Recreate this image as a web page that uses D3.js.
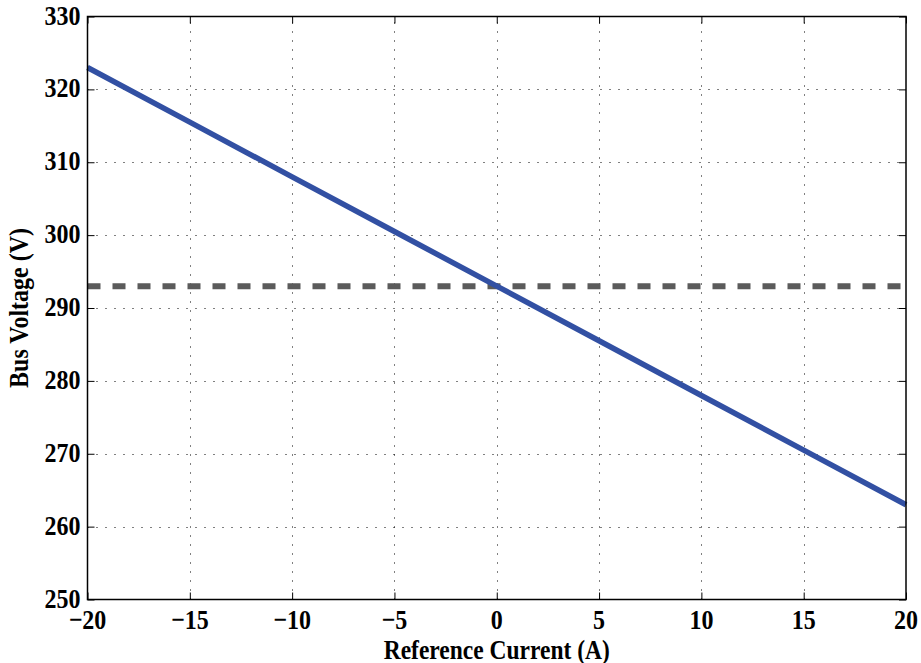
<!DOCTYPE html>
<html>
<head>
<meta charset="utf-8">
<script src="https://cdn.jsdelivr.net/npm/d3@7"></script>
<style>
  html, body { margin: 0; padding: 0; background: #fff; }
  svg text { font-family: "Liberation Serif", "Times New Roman", serif; font-weight: bold; fill: #000; }
</style>
</head>
<body>
<svg id="chart" width="921" height="663"></svg>
<script>
// Bus voltage vs. reference current (droop characteristic)
const currentA = [-20, -15, -10, -5, 0, 5, 10, 15, 20];
const busVoltageV = [323, 315.5, 308, 300.5, 293, 285.5, 278, 270.5, 263];
const nominalVoltage = 293;
const xTicks = [-20, -15, -10, -5, 0, 5, 10, 15, 20];
const yTicks = [250, 260, 270, 280, 290, 300, 310, 320, 330];

const margin = { left: 87.5, right: 15, top: 16.5, bottom: 63.5 };
const W = 921, H = 663;
const svg = d3.select("#chart");

const x = d3.scaleLinear().domain([-20, 20]).range([margin.left, W - margin.right]);
const y = d3.scaleLinear().domain([250, 330]).range([H - margin.bottom, margin.top]);

const x0 = x.range()[0], x1 = x.range()[1];
const y0 = y.range()[0], y1 = y.range()[1];

// dotted grid
const grid = svg.append("g").attr("stroke", "#000").attr("stroke-width", 1)
  .attr("stroke-dasharray", "1,8");
grid.selectAll(".gx").data(xTicks.slice(1, -1)).join("line")
  .attr("x1", d => Math.round(x(d)) + 0.5).attr("x2", d => Math.round(x(d)) + 0.5)
  .attr("y1", y0).attr("y2", y1);
grid.selectAll(".gy").data(yTicks.slice(1, -1)).join("line")
  .attr("y1", d => Math.round(y(d)) + 0.5).attr("y2", d => Math.round(y(d)) + 0.5)
  .attr("x1", x0).attr("x2", x1);

// nominal voltage reference (dashed)
svg.append("line")
  .attr("x1", x0).attr("x2", x1)
  .attr("y1", y(nominalVoltage)).attr("y2", y(nominalVoltage))
  .attr("stroke", "#5b5b5b").attr("stroke-width", 6)
  .attr("stroke-dasharray", "13,12");

// droop line
const line = d3.line().x((d, i) => x(currentA[i])).y(d => y(d));
svg.append("path").datum(busVoltageV)
  .attr("d", line)
  .attr("fill", "none").attr("stroke", "#3250a3").attr("stroke-width", 5.5);

// tick marks (inward, on all four sides)
const tickLen = 7;
const xAxisB = d3.axisBottom(x).tickValues(xTicks).tickSizeInner(-tickLen).tickSizeOuter(0).tickFormat("");
const yAxisL = d3.axisLeft(y).tickValues(yTicks).tickSizeInner(-tickLen).tickSizeOuter(0).tickFormat("");
const xAxisT = d3.axisTop(x).tickValues(xTicks).tickSizeInner(-tickLen).tickSizeOuter(0).tickFormat("");
const yAxisR = d3.axisRight(y).tickValues(yTicks).tickSizeInner(-tickLen).tickSizeOuter(0).tickFormat("");

function styleAxis(g) {
  g.select(".domain").remove();
  g.selectAll(".tick line").attr("stroke", "#000").attr("stroke-width", 1);
}
svg.append("g").attr("transform", `translate(0,${y0})`).call(xAxisB).call(styleAxis);
svg.append("g").attr("transform", `translate(${x0},0)`).call(yAxisL).call(styleAxis);
svg.append("g").attr("transform", `translate(0,${y1})`).call(xAxisT).call(styleAxis);
svg.append("g").attr("transform", `translate(${x1},0)`).call(yAxisR).call(styleAxis);

// box
svg.append("rect").attr("x", x0).attr("y", y1).attr("width", x1 - x0).attr("height", y0 - y1)
  .attr("fill", "none").attr("stroke", "#000").attr("stroke-width", 1.5);

// tick labels, slightly tall glyphs
const sy = 1.18;
const fmt = d => d < 0 ? "\u2212" + Math.abs(d) : String(d);
svg.append("g").selectAll("text").data(xTicks).join("text")
  .attr("transform", d => `translate(${x(d)},${y0 + 29}) scale(1,${sy})`)
  .attr("text-anchor", "middle").attr("font-size", 24).text(fmt);
svg.append("g").selectAll("text").data(yTicks).join("text")
  .attr("transform", d => `translate(${x0 - 7},${y(d) + 8}) scale(1,${sy})`)
  .attr("text-anchor", "end").attr("font-size", 24).text(fmt);

// axis titles
svg.append("text").attr("transform", `translate(${(x0 + x1) / 2},659) scale(1,1.15)`)
  .attr("text-anchor", "middle").attr("font-size", 23.5).text("Reference Current (A)");
svg.append("text").attr("transform", `translate(28,${(y0 + y1) / 2}) rotate(-90) scale(1,${sy})`)
  .attr("text-anchor", "middle").attr("font-size", 24).text("Bus Voltage (V)");
</script>
</body>
</html>
